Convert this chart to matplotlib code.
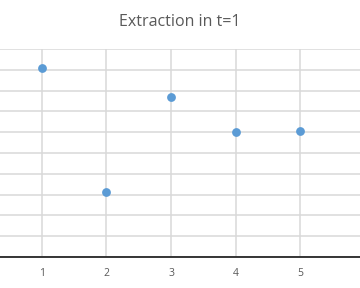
import matplotlib
matplotlib.use("Agg")
import matplotlib.pyplot as plt

# data (y in grid-line units, labels cropped)
periods = [1, 2, 3, 4, 5]
extraction = [9.10, 3.13, 7.71, 6.01, 6.04]
y_ticks = list(range(0, 11))

plt.rcParams['font.family'] = ['Open Sans', 'DejaVu Sans']

fig = plt.figure(figsize=(3.6, 2.88), dpi=100)
ax = fig.add_axes([0.0, (288 - 257) / 288, 1.0, (257 - 49) / 288])

ax.scatter(periods, extraction, s=40, color='#5B9BD5', zorder=3, linewidths=0)

ax.set_xlim(0.349, 5.93)
ax.set_ylim(0, 10)
ax.set_xticks(periods)
ax.set_yticks(y_ticks)
ax.set_yticklabels([])
ax.grid(True, color='#D9D9D9', linewidth=1.1)
ax.set_axisbelow(True)

for side in ['top', 'left', 'right']:
	ax.spines[side].set_visible(False)
ax.spines['bottom'].set_color('#262626')
ax.spines['bottom'].set_linewidth(1.3)
ax.spines['bottom'].set_zorder(4)
ax.tick_params(axis='both', length=0, labelsize=7.5, labelcolor='#595959', pad=8)

fig.text(0.5, 1 - 22 / 288, 'Extraction in t=1', ha='center', va='center',
	fontsize=11.5, color='#595959')

fig.savefig('out.png', dpi=100)
